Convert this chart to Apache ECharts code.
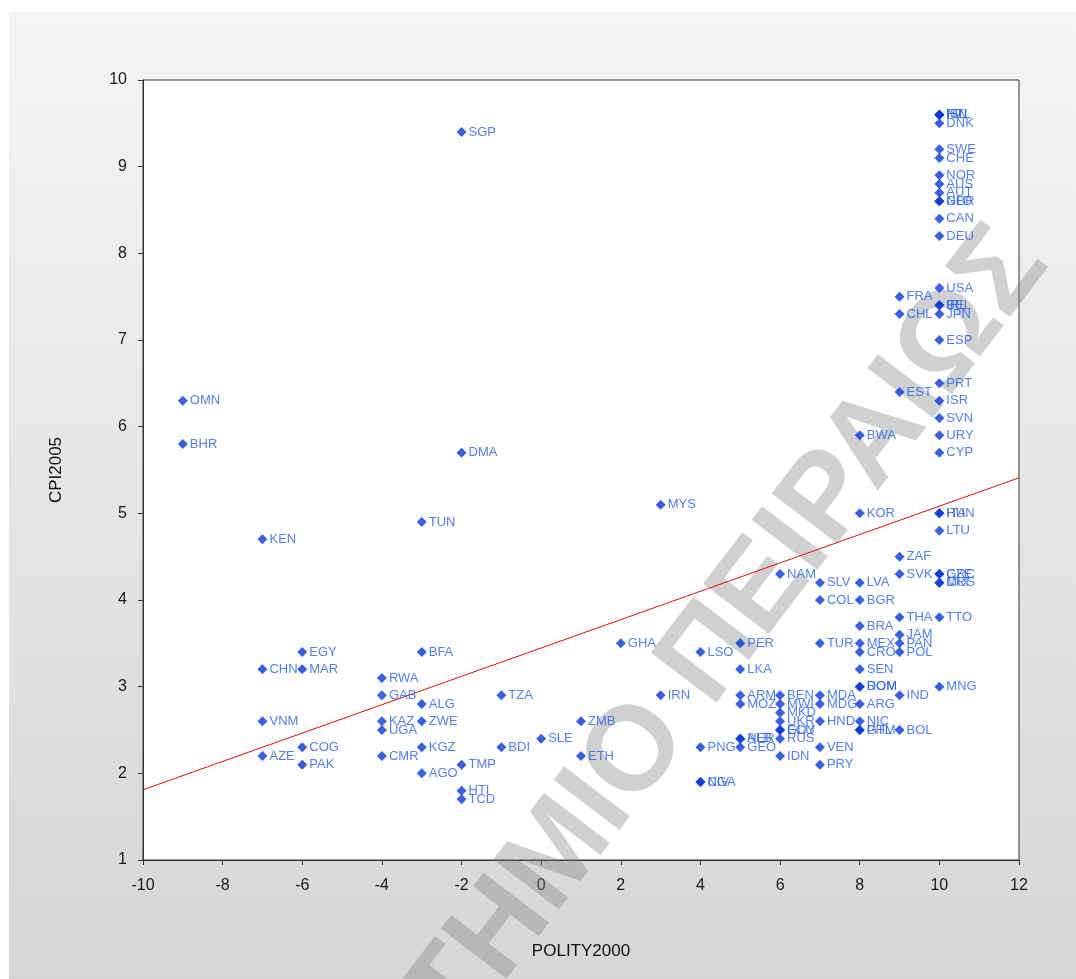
<!DOCTYPE html>
<html>
<head>
<meta charset="utf-8">
<style>html,body{margin:0;padding:0;background:#fff}#c{width:1076px;height:979px}</style>
<script src="https://cdn.jsdelivr.net/npm/echarts@6/dist/echarts.min.js"></script>
</head>
<body>
<div id="c"></div>
<script>
// Country codes, POLITY2000 (x) and CPI2005 (y)
const codes = [
  'FIN','ISL','NZL','DNK','SWE','CHE','NOR','AUS','AUT','GBR','NLD','CAN','DEU',
  'USA','BEL','IRL','JPN','ESP','PRT','ISR','SVN','URY','CYP','ITA','HUN','LTU',
  'GRC','CZE','CRI','MUS','TTO','MNG',
  'FRA','CHL','EST','ZAF','SVK','THA','JAM','PAN','POL','IND','BOL',
  'BWA','KOR','LVA','BGR','BRA','MEX','CRO','SEN','ROM','DOM','ARG','NIC','PHL','GTM',
  'SLV','COL','TUR','MDA','MDG','HND','VEN','PRY',
  'NAM','BEN','MWI','MKD','UKR','ECU','GUY','RUS','IDN',
  'PER','LKA','ARM','MOZ','NER','ALB','GEO',
  'LSO','PNG','NGA','CIV',
  'MYS','IRN','GHA','ZMB','ETH','SLE','TZA','BDI',
  'SGP','DMA','TMP','HTI','TCD',
  'TUN','BFA','ALG','ZWE','KGZ','AGO',
  'RWA','GAB','KAZ','UGA','CMR',
  'EGY','MAR','COG','PAK',
  'KEN','CHN','VNM','AZE',
  'OMN','BHR'
];
const polity = [
  10,10,10,10,10,10,10,10,10,10,10,10,10,
  10,10,10,10,10,10,10,10,10,10,10,10,10,
  10,10,10,10,10,10,
  9,9,9,9,9,9,9,9,9,9,9,
  8,8,8,8,8,8,8,8,8,8,8,8,8,8,
  7,7,7,7,7,7,7,7,
  6,6,6,6,6,6,6,6,6,
  5,5,5,5,5,5,5,
  4,4,4,4,
  3,3,2,1,1,0,-1,-1,
  -2,-2,-2,-2,-2,
  -3,-3,-3,-3,-3,-3,
  -4,-4,-4,-4,-4,
  -6,-6,-6,-6,
  -7,-7,-7,-7,
  -9,-9
];
const cpi = [
  9.6,9.6,9.6,9.5,9.2,9.1,8.9,8.8,8.7,8.6,8.6,8.4,8.2,
  7.6,7.4,7.4,7.3,7.0,6.5,6.3,6.1,5.9,5.7,5.0,5.0,4.8,
  4.3,4.3,4.2,4.2,3.8,3.0,
  7.5,7.3,6.4,4.5,4.3,3.8,3.6,3.5,3.4,2.9,2.5,
  5.9,5.0,4.2,4.0,3.7,3.5,3.4,3.2,3.0,3.0,2.8,2.6,2.5,2.5,
  4.2,4.0,3.5,2.9,2.8,2.6,2.3,2.1,
  4.3,2.9,2.8,2.7,2.6,2.5,2.5,2.4,2.2,
  3.5,3.2,2.9,2.8,2.4,2.4,2.3,
  3.4,2.3,1.9,1.9,
  5.1,2.9,3.5,2.6,2.2,2.4,2.9,2.3,
  9.4,5.7,2.1,1.8,1.7,
  4.9,3.4,2.8,2.6,2.3,2.0,
  3.1,2.9,2.6,2.5,2.2,
  3.4,3.2,2.3,2.1,
  4.7,3.2,2.6,2.2,
  6.3,5.8
];
// Fitted line end points
const fitX = [-10, 12];
const fitY = [1.81, 5.41];
const xTicks = {min: -10, max: 12, step: 2};
const yTicks = {min: 1, max: 10, step: 1};

const pts = codes.map((c, i) => [polity[i], cpi[i], c]);
const fit = fitX.map((x, i) => [x, fitY[i]]);

const chart = echarts.init(document.getElementById('c'), null, {renderer: 'canvas'});
const font = '"Liberation Sans", Arial, sans-serif';
chart.setOption({
  animation: false,
  backgroundColor: {
    type: 'linear', x: 0, y: 0, x2: 0, y2: 1,
    colorStops: [{offset: 0, color: '#f5f5f5'}, {offset: 1, color: '#d6d6d6'}]
  },
  graphic: [
    {type: 'rect', shape: {x: 0, y: 0, width: 1076, height: 12}, style: {fill: '#fff'}, silent: true},
    {type: 'rect', shape: {x: 0, y: 0, width: 9, height: 979}, style: {fill: '#fff'}, silent: true},
    {type: 'text', x: 1024, y: 244, rotation: 0.92, z: 1, silent: true,
     style: {text: 'ΠΑΝΕΠΙΣΤΗΜΙΟ ΠΕΙΡΑΙΩΣ', font: 'bold 120px ' + font,
       fill: 'rgba(125,125,125,0.36)',
       textAlign: 'right', textVerticalAlign: 'middle'}}
  ],
  grid: {left: 143, top: 80, right: 57, bottom: 119, show: true,
         backgroundColor: '#ffffff', borderColor: '#333', borderWidth: 1},
  xAxis: {
    type: 'value', min: xTicks.min, max: xTicks.max, interval: xTicks.step,
    name: 'POLITY2000', nameLocation: 'middle', nameGap: 83,
    nameTextStyle: {fontFamily: font, fontSize: 17, color: '#111'},
    axisLine: {show: true, onZero: false, lineStyle: {color: '#333', width: 1}},
    axisTick: {show: true, inside: false, length: 5, lineStyle: {color: '#333'}},
    axisLabel: {fontFamily: font, fontSize: 16, color: '#1a1a1a', margin: 18},
    splitLine: {show: false}
  },
  yAxis: {
    type: 'value', min: yTicks.min, max: yTicks.max, interval: yTicks.step,
    name: 'CPI2005', nameLocation: 'middle', nameGap: 78, nameRotate: 90,
    nameTextStyle: {fontFamily: font, fontSize: 17, color: '#111'},
    axisLine: {show: true, onZero: false, lineStyle: {color: '#333', width: 1}},
    axisTick: {show: true, inside: false, length: 5, lineStyle: {color: '#333'}},
    axisLabel: {fontFamily: font, fontSize: 16, color: '#1a1a1a', margin: 16},
    splitLine: {show: false}
  },
  series: [
    {
      type: 'line', data: fit, symbol: 'none', z: 3,
      lineStyle: {color: '#e01010', width: 1}, silent: true
    },
    {
      type: 'scatter', data: pts, symbol: 'diamond', symbolSize: 10, z: 4,
      itemStyle: {color: '#0838d8'},
      label: {show: true, position: 'right', distance: 2,
              formatter: p => p.data[2],
              fontFamily: font, fontSize: 13, color: '#2560f0'},
      labelLayout: {hideOverlap: false}
    }
  ]
});
</script>
</body>
</html>
